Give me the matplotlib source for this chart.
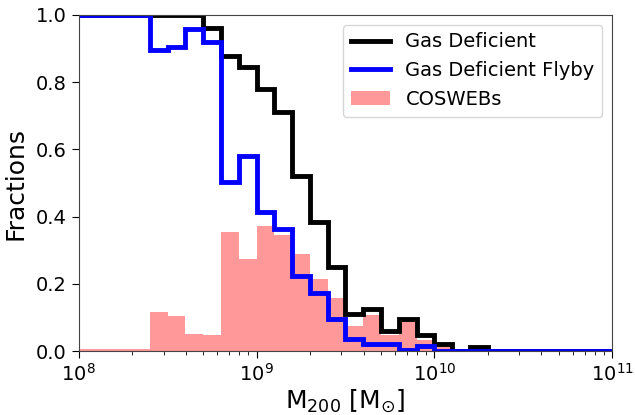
import numpy as np
import matplotlib
matplotlib.use('Agg')
import matplotlib.pyplot as plt

# log10(M200) bin edges, 0.1 dex wide
log_edges = np.linspace(8.0, 11.0, 31)

# fraction per bin
gas_deficient = [1.0, 1.0, 1.0, 1.0, 1.0, 1.0, 1.0,
                 0.96, 0.878, 0.846, 0.779, 0.712, 0.521, 0.383, 0.249,
                 0.11, 0.124, 0.06, 0.094, 0.047, 0.021, 0.0, 0.013,
                 0.0, 0.0, 0.0, 0.0, 0.0, 0.0, 0.0]

gas_deficient_flyby = [1.0, 1.0, 1.0, 1.0,
                       0.896, 0.904, 0.958, 0.92, 0.503, 0.58, 0.413, 0.362,
                       0.224, 0.172, 0.096, 0.037, 0.022, 0.02, 0.004, 0.016,
                       0.0, 0.0, 0.0, 0.0, 0.0, 0.0, 0.0, 0.0, 0.0, 0.0]

coswebs = [0.006, 0.006, 0.006, 0.006,
           0.116, 0.104, 0.051, 0.047, 0.355, 0.273, 0.373, 0.345, 0.29,
           0.213, 0.157, 0.074, 0.107, 0.048, 0.098, 0.032, 0.015,
           0.0, 0.0, 0.0, 0.0, 0.0, 0.0, 0.0, 0.0, 0.0]

edges = 10 ** log_edges

fig = plt.figure(figsize=(6.35, 4.15), dpi=100)
ax = fig.add_axes([0.124, 0.154, 0.84, 0.81])

ax.stairs(coswebs, edges, fill=True, color='red', alpha=0.4, linewidth=0,
          label='COSWEBs')
ax.stairs(gas_deficient, edges, baseline=None, color='black', linewidth=3.5,
          label='Gas Deficient')
ax.stairs(gas_deficient_flyby, edges, baseline=None, color='blue',
          linewidth=3.5, label='Gas Deficient Flyby')

ax.set_xscale('log')
ax.set_xlim(1e8, 1e11)
ax.set_ylim(0, 1)
ax.set_yticks([0.0, 0.2, 0.4, 0.6, 0.8, 1.0])

ax.set_xlabel(r'M$_{200}$ [M$_{\odot}$]', fontsize=18, labelpad=2)
ax.set_ylabel('Fractions', fontsize=18, labelpad=6)
ax.tick_params(axis='both', which='major', labelsize=14, length=5)
ax.tick_params(axis='both', which='minor', length=3)

for s in ax.spines.values():
    s.set_color('#444444')

handles, labels = ax.get_legend_handles_labels()
order = [1, 2, 0]
ax.legend([handles[i] for i in order], [labels[i] for i in order],
          loc='upper right', fontsize=14)

fig.savefig('out.png', dpi=100)
